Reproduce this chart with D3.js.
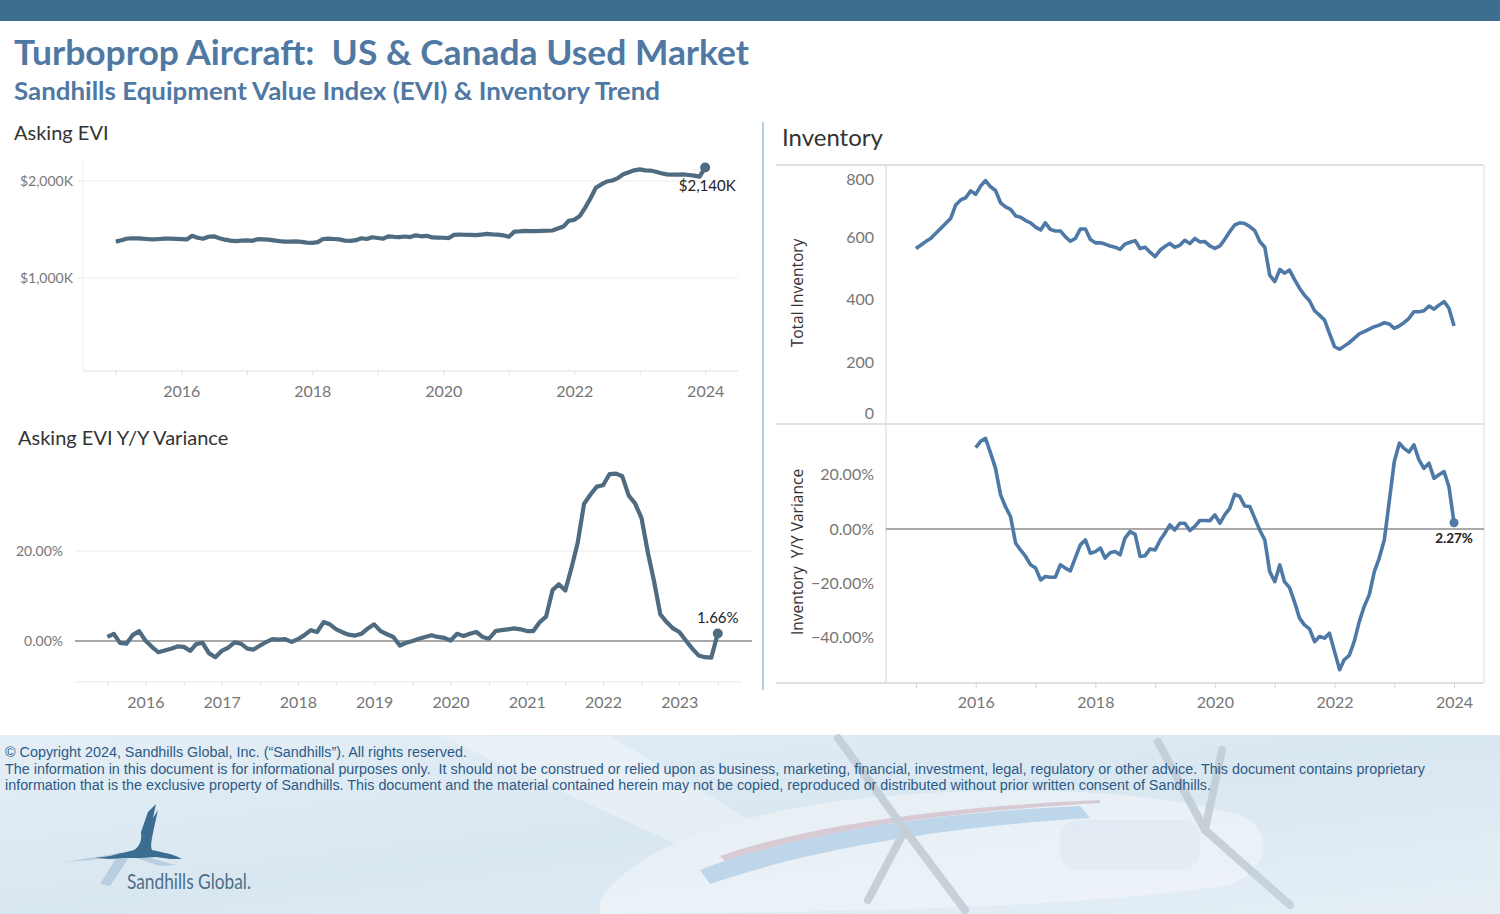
<!DOCTYPE html>
<html>
<head>
<meta charset="utf-8">
<script src="https://cdn.jsdelivr.net/npm/d3@7"></script>
<style>
  body { margin: 0; background: #fff; }
  svg { display: block; }
</style>
</head>
<body>
<script>
// Asking EVI in $K, monthly Jan 2015 - Jan 2024
var eviValues = [
  1375, 1390, 1405, 1410, 1408, 1405, 1400, 1398, 1402, 1405, 1405, 1403,
  1400, 1398, 1435, 1415, 1405, 1425, 1430, 1410, 1395, 1385, 1380, 1385,
  1388, 1383, 1400, 1398, 1395, 1388, 1380, 1376, 1375, 1377, 1372, 1365,
  1363, 1370, 1402, 1405, 1402, 1398, 1385, 1383, 1390, 1410, 1402, 1420,
  1412, 1405, 1430, 1425, 1422, 1428, 1422, 1440, 1430, 1435, 1418, 1416,
  1415, 1412, 1445, 1447, 1446, 1445, 1442, 1448, 1455, 1450, 1448, 1440,
  1425, 1478, 1480, 1485, 1483, 1483, 1485, 1487, 1490, 1510, 1530, 1590,
  1600, 1640, 1720, 1820, 1930, 1965, 1995, 2005, 2030, 2070, 2090, 2110,
  2120, 2110, 2108, 2095, 2080, 2068, 2065, 2065, 2068, 2062, 2055, 2045,
  2140
];

// Asking EVI Y/Y variance in %, monthly Jan 2016 - Jan 2024
var eviYoyValues = [
  0.9, 1.6, -0.4, -0.6, 1.3, 2.2, 0.1, -1.3, -2.5, -2.1, -1.7, -1.2,
  -1.3, -2.2, -0.7, -0.4, -2.7, -3.6, -2.2, -1.5, -0.3, -0.6, -1.7, -1.9,
  -1.0, -0.2, 0.4, 0.3, 0.4, -0.2, 0.4, 1.3, 2.4, 2.0, 4.2, 3.7,
  2.6, 1.9, 1.4, 1.2, 1.6, 2.8, 3.7, 2.2, 1.5, 0.9, -1.0, -0.4,
  0.0, 0.5, 0.9, 1.3, 0.9, 0.7, 0.1, 1.6, 1.1, 1.6, 2.0, 0.9,
  0.5, 2.2, 2.4, 2.6, 2.8, 2.6, 2.2, 2.2, 4.2, 5.4, 11.3, 12.6,
  11.2, 16.5, 21.7, 30.5, 32.5, 34.3, 34.6, 37.1, 37.2, 36.6, 32.3, 30.6,
  27.3, 19.5, 13.5, 5.9, 4.2, 2.8, 2.0, 0.1, -1.7, -3.2, -3.6, -3.7,
  1.66
];

// Total inventory, monthly Jan 2015 - Jan 2024
var inventoryValues = [
  564, 575, 586, 596, 612, 628, 644, 660, 703, 719, 726, 748,
  737, 764, 781, 761, 749, 710, 697, 689, 668, 664, 653, 646,
  632, 623, 646, 625, 620, 620, 602, 587, 596, 626, 626, 593,
  582, 582, 578, 572, 568, 561, 578, 584, 589, 564, 568, 552,
  538, 559, 570, 580, 568, 574, 590, 580, 596, 585, 586, 572,
  564, 572, 593, 618, 639, 646, 644, 634, 621, 586, 568, 479,
  458, 497, 485, 495, 465, 437, 415, 397, 365, 351, 335, 293,
  250, 242, 252, 263, 277, 291, 298, 306, 314, 319, 327, 323,
  309, 317, 327, 341, 362, 362, 365, 380, 370, 383, 394, 373,
  316
];

// Inventory Y/Y variance in %, monthly Jan 2016 - Jan 2024
var inventoryYoyValues = [
  30.1, 32.5, 33.5, 28.0, 22.4, 12.6, 8.2, 4.5, -5.3, -7.8, -10.2, -13.3,
  -14.5, -18.9, -17.6, -17.9, -17.9, -13.3, -14.5, -15.5, -10.6, -5.9, -4.1, -9.0,
  -8.4, -7.1, -10.8, -8.8, -8.4, -9.6, -3.4, -1.0, -2.0, -10.2, -9.9, -7.4,
  -7.8, -4.1, -1.6, 1.5, -0.4, 2.1, 2.1, -0.6, 0.9, 3.1, 3.1, 3.0,
  5.2, 2.1, 5.2, 7.6, 12.8, 12.0, 8.5, 8.3, 3.9, -0.4, -4.1, -15.8,
  -19.5, -13.3, -19.5, -21.7, -26.9, -33.0, -35.5, -37.0, -41.7, -39.8, -40.4, -38.6,
  -45.4, -52.1, -48.4, -46.8, -41.7, -34.3, -28.7, -24.4, -15.8, -10.8, -4.1, 10.1,
  24.9, 31.7, 29.8, 28.4, 31.1, 25.5, 22.4, 24.3, 18.7, 20.0, 21.2, 15.6,
  2.27
];

var eviStart = new Date(2015, 0, 1);
var yoyStart = new Date(2016, 0, 1);

var eviTicks = [1000, 2000];
var eviYoyTicks = [0, 20];
var inventoryTicks = [0, 200, 400, 600, 800];
var inventoryYoyTicks = [-40, -20, 0, 20];
var evenYears = [2016, 2018, 2020, 2022, 2024];
var yoyYears = [2016, 2017, 2018, 2019, 2020, 2021, 2022, 2023];

var eviLabel = "$2,140K";
var eviYoyLabel = "1.66%";
var inventoryYoyLabel = "2.27%";

var W = 1500, H = 914;
var leftColor = "#4f6b80";
var rightColor = "#4e79a7";
var tickColor = "#767676";
var tickFont = "Lato, 'Open Sans', sans-serif";

function monthDates(start, n) {
  return d3.range(n).map(function(i) { return d3.timeMonth.offset(start, i); });
}

function toPoints(start, values) {
  var dates = monthDates(start, values.length);
  return values.map(function(v, i) { return { date: dates[i], value: v }; });
}

var svg = d3.select("body")
  .append("svg")
  .attr("width", W)
  .attr("height", H)
  .style("font-family", tickFont);

// ---------- header ----------
svg.append("rect")
  .attr("x", 0).attr("y", 0)
  .attr("width", W).attr("height", 21)
  .attr("fill", "#3d6e8f");

svg.append("text")
  .attr("x", 14).attr("y", 65)
  .attr("font-size", 34).attr("font-weight", "bold")
  .attr("fill", "#4f78a3")
  .attr("textLength", 735).attr("lengthAdjust", "spacingAndGlyphs")
  .style("white-space", "pre")
  .text("Turboprop Aircraft:  US & Canada Used Market");

svg.append("text")
  .attr("x", 14).attr("y", 100)
  .attr("font-size", 24).attr("font-weight", "bold")
  .attr("fill", "#4f78a3")
  .attr("textLength", 646).attr("lengthAdjust", "spacingAndGlyphs")
  .text("Sandhills Equipment Value Index (EVI) & Inventory Trend");

// divider between the two halves
svg.append("line")
  .attr("x1", 763).attr("x2", 763)
  .attr("y1", 122).attr("y2", 690)
  .attr("stroke", "#b4cde2").attr("stroke-width", 2);

// ---------- Asking EVI (top left) ----------
var eviData = toPoints(eviStart, eviValues);

var x1 = d3.scaleTime()
  .domain([new Date(2014, 6, 2), new Date(2024, 6, 2)])
  .range([83, 738]);
var y1 = d3.scaleLinear()
  .domain([0, 2230])
  .range([375, 158.7]);

svg.append("text")
  .attr("x", 14).attr("y", 140)
  .attr("font-size", 20).attr("fill", "#333")
  .text("Asking EVI");

var g1 = svg.append("g");

g1.append("line")
  .attr("x1", 83).attr("x2", 83).attr("y1", 158).attr("y2", 371)
  .attr("stroke", "#f0f0f0");

g1.selectAll(".grid")
  .data(eviTicks)
  .enter()
  .append("line")
  .attr("x1", 78).attr("x2", 738)
  .attr("y1", function(d) { return y1(d); })
  .attr("y2", function(d) { return y1(d); })
  .attr("stroke", "#ececec").attr("stroke-width", 1.2);

g1.append("g")
  .attr("transform", "translate(76,0)")
  .call(d3.axisLeft(y1).tickValues(eviTicks).tickSize(0)
    .tickFormat(function(d) { return "$" + d3.format(",")(d) + "K"; }))
  .call(function(g) { g.select(".domain").remove(); })
  .selectAll("text")
  .attr("font-family", tickFont).attr("font-size", 14).attr("fill", tickColor);

g1.append("line")
  .attr("x1", 83).attr("x2", 738).attr("y1", 371).attr("y2", 371)
  .attr("stroke", "#e4e4e4").attr("stroke-width", 1.2);

g1.append("g")
  .attr("transform", "translate(0,371)")
  .call(d3.axisBottom(x1).ticks(d3.timeYear.every(1)).tickSize(4).tickFormat(""))
  .call(function(g) {
    g.select(".domain").remove();
    g.selectAll("line").attr("stroke", "#e0e0e0");
  });

g1.append("g")
  .attr("transform", "translate(0,371)")
  .call(d3.axisBottom(x1)
    .tickValues(evenYears.map(function(y) { return new Date(y, 0, 1); }))
    .tickSize(0).tickPadding(15)
    .tickFormat(d3.timeFormat("%Y")))
  .call(function(g) { g.select(".domain").remove(); })
  .selectAll("text")
  .attr("font-family", tickFont).attr("font-size", 16).attr("fill", tickColor);

var line1 = d3.line()
  .x(function(d) { return x1(d.date); })
  .y(function(d) { return y1(d.value); });

g1.append("path")
  .datum(eviData)
  .attr("d", line1)
  .attr("fill", "none")
  .attr("stroke", leftColor)
  .attr("stroke-width", 4.2)
  .attr("stroke-linejoin", "round");

var eviLast = eviData[eviData.length - 1];
g1.append("circle")
  .attr("cx", x1(eviLast.date)).attr("cy", y1(eviLast.value))
  .attr("r", 5).attr("fill", leftColor);
g1.append("text")
  .attr("x", x1(eviLast.date) + 2).attr("y", y1(eviLast.value) + 24)
  .attr("text-anchor", "middle")
  .attr("font-size", 15).attr("fill", "#222")
  .text(eviLabel);

// ---------- Asking EVI Y/Y variance (bottom left) ----------
var eviYoyData = toPoints(yoyStart, eviYoyValues);

var x2 = d3.scaleTime()
  .domain([new Date(2015, 6, 30), new Date(2024, 3, 26)])
  .range([75, 742]);
var y2 = d3.scaleLinear()
  .domain([-9, 40])
  .range([681.5, 461]);

svg.append("text")
  .attr("x", 18).attr("y", 445)
  .attr("font-size", 20).attr("fill", "#333")
  .text("Asking EVI Y/Y Variance");

var g2 = svg.append("g");

g2.append("line")
  .attr("x1", 75).attr("x2", 752)
  .attr("y1", y2(20)).attr("y2", y2(20))
  .attr("stroke", "#ececec").attr("stroke-width", 1.2);

g2.append("g")
  .attr("transform", "translate(66,0)")
  .call(d3.axisLeft(y2).tickValues(eviYoyTicks).tickSize(0)
    .tickFormat(function(d) { return d3.format(".2f")(d) + "%"; }))
  .call(function(g) { g.select(".domain").remove(); })
  .selectAll("text")
  .attr("font-family", tickFont).attr("font-size", 14).attr("fill", tickColor);

g2.append("line")
  .attr("x1", 75).attr("x2", 742).attr("y1", 682).attr("y2", 682)
  .attr("stroke", "#e8e8e8").attr("stroke-width", 1.2);

g2.append("g")
  .attr("transform", "translate(0,682)")
  .call(d3.axisBottom(x2).ticks(d3.timeMonth.every(6)).tickSize(4).tickFormat(""))
  .call(function(g) {
    g.select(".domain").remove();
    g.selectAll("line").attr("stroke", "#e2e2e2");
  });

g2.append("g")
  .attr("transform", "translate(0,682)")
  .call(d3.axisBottom(x2)
    .tickValues(yoyYears.map(function(y) { return new Date(y, 6, 1); }))
    .tickSize(0).tickPadding(15)
    .tickFormat(d3.timeFormat("%Y")))
  .call(function(g) { g.select(".domain").remove(); })
  .selectAll("text")
  .attr("font-family", tickFont).attr("font-size", 16).attr("fill", tickColor);

g2.append("line")
  .attr("x1", 75).attr("x2", 752)
  .attr("y1", y2(0)).attr("y2", y2(0))
  .attr("stroke", "#8c8c8c").attr("stroke-width", 1.5);

var line2 = d3.line()
  .x(function(d) { return x2(d.date); })
  .y(function(d) { return y2(d.value); });

g2.append("path")
  .datum(eviYoyData)
  .attr("d", line2)
  .attr("fill", "none")
  .attr("stroke", leftColor)
  .attr("stroke-width", 4.2)
  .attr("stroke-linejoin", "round");

var eviYoyLast = eviYoyData[eviYoyData.length - 1];
g2.append("circle")
  .attr("cx", x2(eviYoyLast.date)).attr("cy", y2(eviYoyLast.value))
  .attr("r", 5).attr("fill", leftColor);
g2.append("text")
  .attr("x", x2(eviYoyLast.date)).attr("y", y2(eviYoyLast.value) - 11)
  .attr("text-anchor", "middle")
  .attr("font-size", 15).attr("fill", "#222")
  .text(eviYoyLabel);

// ---------- Inventory (right) ----------
var inventoryData = toPoints(eviStart, inventoryValues);
var inventoryYoyData = toPoints(yoyStart, inventoryYoyValues);

var x3 = d3.scaleTime()
  .domain([new Date(2014, 6, 2), new Date(2024, 6, 2)])
  .range([886, 1484]);
var y3 = d3.scaleLinear()
  .domain([0, 830])
  .range([425, 165.2]);
var y4 = d3.scaleLinear()
  .domain([-57, 38.8])
  .range([683, 424]);

svg.append("text")
  .attr("x", 782).attr("y", 146)
  .attr("font-size", 24).attr("fill", "#333")
  .text("Inventory");

var g3 = svg.append("g");

// panel frame
[165, 424, 683].forEach(function(yy) {
  g3.append("line")
    .attr("x1", 776).attr("x2", 1484).attr("y1", yy).attr("y2", yy)
    .attr("stroke", "#d6d6d6").attr("stroke-width", 1.5);
});
g3.append("line")
  .attr("x1", 886).attr("x2", 886).attr("y1", 165).attr("y2", 683)
  .attr("stroke", "#dcdcdc").attr("stroke-width", 1.2);
g3.append("line")
  .attr("x1", 1484).attr("x2", 1484).attr("y1", 165).attr("y2", 683)
  .attr("stroke", "#e2e2e2").attr("stroke-width", 1.2);

g3.append("g")
  .attr("transform", "translate(877,0)")
  .call(d3.axisLeft(y3).tickValues(inventoryTicks).tickSize(0))
  .call(function(g) { g.select(".domain").remove(); })
  .selectAll("text")
  .attr("font-family", tickFont).attr("font-size", 16).attr("fill", tickColor)
  .attr("dy", function(d) { return d === 0 ? "-0.4em" : (d === 800 ? "0.62em" : "0.32em"); });

g3.append("g")
  .attr("transform", "translate(877,0)")
  .call(d3.axisLeft(y4).tickValues(inventoryYoyTicks).tickSize(0)
    .tickFormat(function(d) { return d3.format(".2f")(d) + "%"; }))
  .call(function(g) { g.select(".domain").remove(); })
  .selectAll("text")
  .attr("font-family", tickFont).attr("font-size", 16).attr("fill", tickColor);

g3.append("g")
  .attr("transform", "translate(0,683)")
  .call(d3.axisBottom(x3).ticks(d3.timeYear.every(1)).tickSize(5).tickFormat(""))
  .call(function(g) {
    g.select(".domain").remove();
    g.selectAll("line").attr("stroke", "#d6d6d6");
  });

g3.append("g")
  .attr("transform", "translate(0,683)")
  .call(d3.axisBottom(x3)
    .tickValues(evenYears.map(function(y) { return new Date(y, 0, 1); }))
    .tickSize(0).tickPadding(14)
    .tickFormat(d3.timeFormat("%Y")))
  .call(function(g) { g.select(".domain").remove(); })
  .selectAll("text")
  .attr("font-family", tickFont).attr("font-size", 16).attr("fill", tickColor);

svg.append("text")
  .attr("transform", "translate(803,293) rotate(-90)")
  .attr("text-anchor", "middle")
  .attr("font-family", "'Open Sans', sans-serif")
  .attr("font-size", 15.5).attr("fill", "#333")
  .text("Total Inventory");

svg.append("text")
  .attr("transform", "translate(803,552) rotate(-90)")
  .attr("text-anchor", "middle")
  .attr("font-family", "'Open Sans', sans-serif")
  .attr("font-size", 15.5).attr("fill", "#333")
  .style("white-space", "pre")
  .text("Inventory  Y/Y Variance");

g3.append("line")
  .attr("x1", 886).attr("x2", 1484)
  .attr("y1", y4(0)).attr("y2", y4(0))
  .attr("stroke", "#8c8c8c").attr("stroke-width", 1.5);

var line3 = d3.line()
  .x(function(d) { return x3(d.date); })
  .y(function(d) { return y3(d.value); });
var line4 = d3.line()
  .x(function(d) { return x3(d.date); })
  .y(function(d) { return y4(d.value); });

g3.append("path")
  .datum(inventoryData)
  .attr("d", line3)
  .attr("fill", "none")
  .attr("stroke", rightColor)
  .attr("stroke-width", 3.6)
  .attr("stroke-linejoin", "round");

g3.append("path")
  .datum(inventoryYoyData)
  .attr("d", line4)
  .attr("fill", "none")
  .attr("stroke", rightColor)
  .attr("stroke-width", 3.6)
  .attr("stroke-linejoin", "round");

var invYoyLast = inventoryYoyData[inventoryYoyData.length - 1];
g3.append("circle")
  .attr("cx", x3(invYoyLast.date)).attr("cy", y4(invYoyLast.value))
  .attr("r", 4.5).attr("fill", rightColor);
g3.append("text")
  .attr("x", x3(invYoyLast.date)).attr("y", y4(invYoyLast.value) + 20)
  .attr("text-anchor", "middle")
  .attr("font-size", 13.5).attr("font-weight", "bold").attr("fill", "#222")
  .text(inventoryYoyLabel);

// ---------- footer ----------
var defs = svg.append("defs");
var sky = defs.append("linearGradient")
  .attr("id", "sky").attr("x1", 0).attr("y1", 0).attr("x2", 1).attr("y2", 1);
sky.append("stop").attr("offset", "0%").attr("stop-color", "#e4eef6");
sky.append("stop").attr("offset", "50%").attr("stop-color", "#d9e7f1");
sky.append("stop").attr("offset", "100%").attr("stop-color", "#e6eff6");

var foot = svg.append("g");
foot.append("rect")
  .attr("x", 0).attr("y", 735)
  .attr("width", W).attr("height", H - 735)
  .attr("fill", "url(#sky)");

// faint aircraft impression behind the text
var plane = foot.append("g").attr("opacity", 0.55);
plane.append("path")
  .attr("d", "M440,736 L610,736 L800,850 L760,882 Z")
  .attr("fill", "#f1f5f9");
plane.append("path")
  .attr("d", "M600,900 C640,840 760,805 900,795 C1020,786 1150,790 1240,815 C1275,828 1270,870 1230,885 C1100,905 900,912 600,914 Z")
  .attr("fill", "#f5f8fb");
plane.append("path")
  .attr("d", "M700,870 C800,830 950,812 1080,806 L1090,818 C960,826 820,846 710,884 Z")
  .attr("fill", "#a6c8e4");
plane.append("path")
  .attr("d", "M720,856 C820,822 960,806 1100,800 L1100,803 C960,811 830,827 725,861 Z")
  .attr("fill", "#d6b3bc");
plane.append("rect")
  .attr("x", 1060).attr("y", 820).attr("width", 140).attr("height", 50)
  .attr("rx", 18).attr("fill", "#e8eef4");
[[838, 738, 905, 830], [905, 830, 965, 910], [868, 900, 905, 830],
 [1158, 742, 1205, 830], [1205, 830, 1290, 905], [1222, 750, 1205, 830]]
  .forEach(function(p) {
    plane.append("line")
      .attr("x1", p[0]).attr("y1", p[1]).attr("x2", p[2]).attr("y2", p[3])
      .attr("stroke", "#b3bcc5").attr("stroke-width", 8)
      .attr("stroke-linecap", "round");
  });

var copyFont = "'Liberation Sans', Arial, sans-serif";
var copyLines = [
  { text: "\u00a9 Copyright 2024, Sandhills Global, Inc. (\u201cSandhills\u201d). All rights reserved.", y: 757, len: 462 },
  { text: "The information in this document is for informational purposes only.  It should not be construed or relied upon as business, marketing, financial, investment, legal, regulatory or other advice. This document contains proprietary", y: 774, len: 1420 },
  { text: "information that is the exclusive property of Sandhills. This document and the material contained herein may not be copied, reproduced or distributed without prior written consent of Sandhills.", y: 790, len: 1206 }
];
foot.selectAll(".copy")
  .data(copyLines)
  .enter()
  .append("text")
  .attr("x", 5)
  .attr("y", function(d) { return d.y; })
  .attr("textLength", function(d) { return d.len; })
  .attr("lengthAdjust", "spacingAndGlyphs")
  .attr("font-family", copyFont)
  .attr("font-size", 14)
  .attr("fill", "#2c5a86")
  .style("white-space", "pre")
  .text(function(d) { return d.text; });

// logo
foot.append("path")
  .attr("d", "M64,862 L92,860 C104,858 112,856 120,852 L100,884 L110,886 L130,856 L160,866 L176,865 L150,858 C140,855 132,854 126,852 Z")
  .attr("fill", "#b9cfe0");
foot.append("path")
  .attr("d", "M95,858 L110,856 C120,853 128,852 134,850 C140,846 142,840 141,832 L148,812 L156,804 L153,818 L158,810 L154,828 C152,838 150,846 152,850 C160,852 168,853 176,856 L182,859 L170,859 L156,857 C146,858 136,858 124,858 L110,859 Z")
  .attr("fill", "#3b6d90");
foot.append("text")
  .attr("x", 127).attr("y", 889)
  .attr("font-family", "Lato, sans-serif")
  .attr("font-size", 21)
  .attr("fill", "#4d6f88")
  .attr("textLength", 124).attr("lengthAdjust", "spacingAndGlyphs")
  .text("Sandhills Global.");
</script>
</body>
</html>
